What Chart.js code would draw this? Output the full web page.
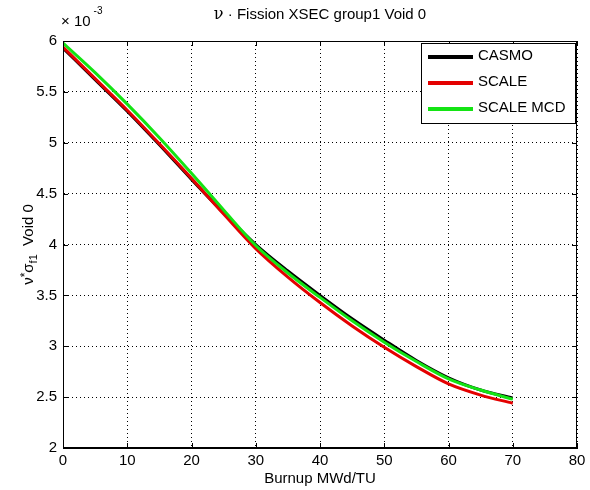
<!DOCTYPE html>
<html><head><meta charset="utf-8">
<script src="https://cdn.jsdelivr.net/npm/chart.js@4.4.0/dist/chart.umd.min.js"></script>
<style>html,body{margin:0;padding:0;background:#fff}#wrap{width:590px;height:490px;position:relative}</style>
</head><body><div id="wrap"><canvas id="c"></canvas></div>
<script>
// Values in units of 1e-3 (axis multiplier shown as ×10^-3)
const burnup   = [0, 5, 10, 15, 20, 25, 30, 35, 40, 45, 50, 55, 60, 65, 70];
const casmo    = [5.93, 5.62, 5.31, 4.98, 4.64, 4.31, 4.00, 3.74, 3.50, 3.27, 3.06, 2.86, 2.69, 2.57, 2.49];
const scale    = [5.94, 5.63, 5.32, 4.99, 4.65, 4.30, 3.96, 3.68, 3.43, 3.20, 2.99, 2.80, 2.63, 2.52, 2.44];
const scaleMcd = [5.98, 5.69, 5.38, 5.05, 4.70, 4.34, 3.99, 3.72, 3.48, 3.25, 3.04, 2.85, 2.68, 2.57, 2.48];
const seriesNames = ['CASMO', 'SCALE', 'SCALE MCD'];
const xTicks = [0, 10, 20, 30, 40, 50, 60, 70, 80];
const yTicks = [2, 2.5, 3, 3.5, 4, 4.5, 5, 5.5, 6];
const yExponent = '-3';
const titleSymbol = 'ν';
const titleText = ' · Fission XSEC group1 Void 0';
const xTitle = 'Burnup MWd/TU';

const colors = ['#000000', 'rgb(228,0,0)', 'rgb(20,228,20)'];
const series = [casmo, scale, scaleMcd];
const SANS = '"Liberation Sans", Arial, sans-serif';
const SERIF = '"DejaVu Serif", "Liberation Serif", serif';

const datasets = series.map((vals, i) => ({
  label: seriesNames[i],
  data: burnup.map((x, k) => ({x: x, y: vals[k]})),
  borderColor: colors[i],
  backgroundColor: colors[i],
  borderWidth: 3,
  pointRadius: 0,
  fill: false,
  cubicInterpolationMode: 'monotone',
  order: 3 - i
}));

const decor = {
  id: 'decor',
  afterDatasetsDraw(chart) {
    const ctx = chart.ctx;
    const a = chart.chartArea;
    const xs = chart.scales.x, ys = chart.scales.y;
    ctx.save();
    // box
    ctx.strokeStyle = '#000';
    ctx.lineWidth = 1;
    ctx.strokeRect(Math.round(a.left) + 0.5, Math.round(a.top) + 0.5,
      Math.round(a.right - a.left) - 1, Math.round(a.bottom - a.top) - 1);
    // inward ticks
    const tl = 5;
    ctx.beginPath();
    xTicks.forEach(v => {
      const px = Math.round(xs.getPixelForValue(v)) + 0.5;
      ctx.moveTo(px, a.bottom); ctx.lineTo(px, a.bottom - tl);
      ctx.moveTo(px, a.top); ctx.lineTo(px, a.top + tl);
    });
    yTicks.forEach(v => {
      const py = Math.round(ys.getPixelForValue(v)) + 0.5;
      ctx.moveTo(a.left, py); ctx.lineTo(a.left + tl, py);
      ctx.moveTo(a.right, py); ctx.lineTo(a.right - tl, py);
    });
    ctx.stroke();

    // legend
    const lx = 421, ly = 43, lw = 154, lh = 80;
    ctx.fillStyle = '#fff';
    ctx.fillRect(lx, ly, lw, lh);
    ctx.strokeRect(lx + 0.5, ly + 0.5, lw, lh);
    ctx.font = '15px ' + SANS;
    ctx.textBaseline = 'middle';
    ctx.textAlign = 'left';
    chart.data.datasets.forEach((ds, i) => {
      const cy = ly + 13 + i * 26;
      ctx.strokeStyle = ds.borderColor;
      ctx.lineWidth = 4;
      ctx.beginPath();
      ctx.moveTo(lx + 7, cy + 1); ctx.lineTo(lx + 52, cy + 1);
      ctx.stroke();
      ctx.fillStyle = '#000';
      ctx.fillText(ds.label, lx + 57, cy);
    });

    // title
    const cx = (a.left + a.right) / 2;
    ctx.textBaseline = 'alphabetic';
    ctx.font = '16px ' + SERIF;
    const w1 = ctx.measureText(titleSymbol).width;
    ctx.font = '15px ' + SANS;
    const w2 = ctx.measureText(titleText).width;
    let tx = cx - (w1 + w2) / 2;
    ctx.fillStyle = '#000';
    ctx.font = '16px ' + SERIF;
    ctx.fillText(titleSymbol, tx, 19);
    ctx.font = '15px ' + SANS;
    ctx.fillText(titleText, tx + w1, 19);

    // exponent
    ctx.font = '15px ' + SANS;
    ctx.fillText('× 10', 61, 26);
    const we = ctx.measureText('× 10').width;
    ctx.font = '10px ' + SANS;
    ctx.fillText(yExponent, 61 + we + 3, 14);

    // y label (rotated)
    ctx.save();
    ctx.translate(28, (a.top + a.bottom) / 2);
    ctx.rotate(-Math.PI / 2);
    const parts = [
      {t: 'ν', f: '15px ' + SANS, dy: 0},
      {t: '*', f: '12px ' + SANS, dy: -4},
      {t: 'σ', f: '15px ' + SANS, dy: 0},
      {t: 'f1', f: '11px ' + SANS, dy: 4},
      {t: '  Void 0', f: '15px ' + SANS, dy: 0}
    ];
    let tot = 0;
    parts.forEach(p => { ctx.font = p.f; p.w = ctx.measureText(p.t).width; tot += p.w; });
    let px = -tot / 2;
    ctx.textAlign = 'left';
    ctx.textBaseline = 'alphabetic';
    parts.forEach(p => { ctx.font = p.f; ctx.fillText(p.t, px, 5 + p.dy); px += p.w; });
    ctx.restore();
    ctx.restore();
  }
};

new Chart(document.getElementById('c'), {
  type: 'line',
  data: {datasets: datasets},
  options: {
    responsive: true,
    maintainAspectRatio: false,
    animation: false,
    devicePixelRatio: 1,
    layout: {padding: {top: 41, right: 13, left: 0, bottom: 0}},
    plugins: {legend: {display: false}, tooltip: {enabled: false}, title: {display: false}},
    scales: {
      x: {
        type: 'linear', min: 0, max: 80,
        afterBuildTicks: s => { s.ticks = xTicks.map(v => ({value: v})); },
        afterFit: s => { s.height = 42; },
        ticks: {color: '#000', font: {family: SANS, size: 15}, padding: 4, maxRotation: 0,
                callback: v => String(v)},
        grid: {color: '#000', lineWidth: 1, drawTicks: false},
        border: {display: true, color: '#000', width: 1, dash: [1, 3]},
        title: {display: true, text: xTitle, color: '#000', font: {family: SANS, size: 15},
                padding: {top: 0, bottom: 2}}
      },
      y: {
        type: 'linear', min: 2, max: 6,
        afterBuildTicks: s => { s.ticks = yTicks.map(v => ({value: v})); },
        afterFit: s => { s.width = 63; },
        ticks: {color: '#000', font: {family: SANS, size: 15}, padding: 6,
                callback: v => String(v)},
        grid: {color: '#000', lineWidth: 1, drawTicks: false},
        border: {display: true, color: '#000', width: 1, dash: [1, 3]}
      }
    }
  },
  plugins: [decor]
});
</script>
</body></html>
